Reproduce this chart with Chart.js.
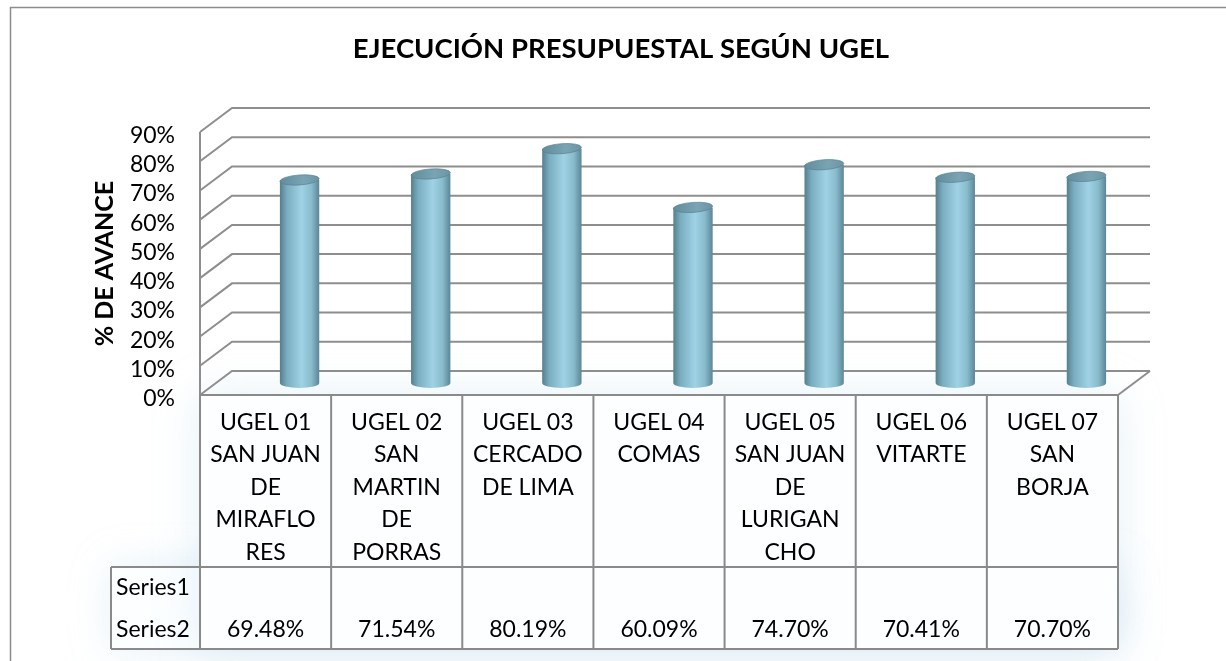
<!DOCTYPE html>
<html>
<head>
<meta charset="utf-8">
<script src="https://cdn.jsdelivr.net/npm/chart.js@4.4.0/dist/chart.umd.min.js"></script>
<style>
html,body{margin:0;padding:0;background:#fff;}
#wrap{width:1226px;height:661px;position:relative;}
</style>
</head>
<body>
<div id="wrap"><canvas id="c" width="1226" height="661"></canvas></div>
<script>
const chartTitle = "EJECUCIÓN PRESUPUESTAL SEGÚN UGEL";
const yAxisTitle = "% DE AVANCE";
const categories = [
  ["UGEL 01","SAN JUAN","DE","MIRAFLO","RES"],
  ["UGEL 02","SAN","MARTIN","DE","PORRAS"],
  ["UGEL 03","CERCADO","DE LIMA"],
  ["UGEL 04","COMAS"],
  ["UGEL 05","SAN JUAN","DE","LURIGAN","CHO"],
  ["UGEL 06","VITARTE"],
  ["UGEL 07","SAN","BORJA"]
];
const series1 = [null, null, null, null, null, null, null];
const series2 = [69.48, 71.54, 80.19, 60.09, 74.70, 70.41, 70.70];
const seriesNames = ["Series1", "Series2"];
const yMin = 0, yMax = 90, yStep = 10;

const FONT = "Lato, 'Open Sans', sans-serif";
const GRID = "#8e8e8e";
const FDX = -32, FDY = 12;   // front offset from chart plane
const BDX = 0,  BDY = -12;   // back offset

const deco = {
  id: 'deco',
  beforeDraw(chart) {
    const ctx = chart.ctx, ca = chart.chartArea;
    const ys = chart.scales.y, xs = chart.scales.x;
    ctx.save();
    ctx.fillStyle = '#fff';
    ctx.fillRect(0, 0, chart.width, chart.height);
    // outer border
    ctx.strokeStyle = '#8c8c8c'; ctx.lineWidth = 1.5;
    ctx.beginPath(); ctx.moveTo(10.5, 700); ctx.lineTo(10.5, 7.5); ctx.lineTo(1300, 7.5); ctx.stroke();

    // glow behind table/floor
    const cw = (ca.right - ca.left) / categories.length;
    const tL = ca.left + FDX, tR = ca.right + FDX;
    const t0 = ys.getPixelForValue(0) + FDY;
    ctx.save();
    ctx.shadowColor = 'rgba(175,212,232,0.35)';
    ctx.shadowBlur = 40;
    ctx.fillStyle = '#fcfeff';
    ctx.fillRect(tL - 88, t0 + 172, tR - tL + 88, 82);
    ctx.fillRect(tL, t0, tR - tL, 254);
    ctx.restore();

    // title
    ctx.fillStyle = '#000';
    ctx.font = "bold 27.5px " + FONT;
    ctx.textAlign = 'center'; ctx.textBaseline = 'alphabetic';
    ctx.fillText(chartTitle, 621, 58);

    // y axis title
    ctx.save();
    ctx.translate(113, 263.5); ctx.rotate(-Math.PI / 2);
    ctx.font = "bold 25px " + FONT;
    ctx.fillText(yAxisTitle, 0, 0);
    ctx.restore();

    // walls gridlines
    ctx.strokeStyle = GRID; ctx.lineWidth = 2; ctx.lineCap = 'butt';
    ys.ticks.forEach(t => {
      const y = ys.getPixelForValue(t.value);
      ctx.beginPath();
      ctx.moveTo(ca.left + FDX, y + FDY);
      ctx.lineTo(ca.left + BDX, y + BDY);
      ctx.lineTo(ca.right + BDX, y + BDY);
      ctx.stroke();
    });
    // front-left vertical axis
    ctx.beginPath();
    ctx.moveTo(ca.left + FDX, ys.getPixelForValue(yMin) + FDY);
    ctx.lineTo(ca.left + FDX, ys.getPixelForValue(yMax) + FDY);
    ctx.stroke();
    // floor right edge
    ctx.beginPath();
    ctx.moveTo(ca.right + FDX, ys.getPixelForValue(0) + FDY);
    ctx.lineTo(ca.right + BDX, ys.getPixelForValue(0) + BDY);
    ctx.stroke();

    // tick labels
    ctx.font = "23px " + FONT; ctx.textAlign = 'right';
    ys.ticks.forEach(t => {
      const y = ys.getPixelForValue(t.value) + FDY;
      ctx.fillText(t.value + '%', 175, y + 11);
    });

    // data table
    const rowTop = t0, hdrBot = t0 + 172, tBot = hdrBot + 82, lblL = tL - 89;
    ctx.strokeStyle = '#8a8a8a'; ctx.lineWidth = 2;
    ctx.beginPath();
    ctx.moveTo(tL, rowTop); ctx.lineTo(tR, rowTop);
    ctx.moveTo(lblL, hdrBot); ctx.lineTo(tR, hdrBot);
    ctx.moveTo(lblL, tBot); ctx.lineTo(tR, tBot);
    ctx.moveTo(lblL, hdrBot); ctx.lineTo(lblL, tBot);
    for (let i = 0; i <= categories.length; i++) {
      const x = (i < categories.length ? xs.getPixelForValue(i) - cw / 2 : xs.getPixelForValue(i - 1) + cw / 2) + FDX;
      ctx.moveTo(x, rowTop); ctx.lineTo(x, tBot);
    }
    ctx.stroke();

    ctx.fillStyle = '#000'; ctx.font = "23px " + FONT;
    ctx.textAlign = 'center';
    categories.forEach((lines, i) => {
      const cx = xs.getPixelForValue(i) + FDX;
      lines.forEach((ln, k) => ctx.fillText(ln, cx, rowTop + 35 + k * 32.4));
      const v1 = series1[i], v2 = series2[i];
      if (v1 != null) ctx.fillText(v1.toFixed(2) + '%', cx, hdrBot + 28);
      if (v2 != null) ctx.fillText(v2.toFixed(2) + '%', cx, hdrBot + 70);
    });
    ctx.textAlign = 'left';
    ctx.fillText(seriesNames[0], lblL + 5, hdrBot + 28);
    ctx.fillText(seriesNames[1], lblL + 5, hdrBot + 70);
    ctx.restore();
  },
  afterDatasetsDraw(chart) {
    const ctx = chart.ctx;
    chart.data.datasets.forEach((ds, di) => {
      const meta = chart.getDatasetMeta(di);
      meta.data.forEach((el, i) => {
        if (ds.data[i] == null) return;
        const p = el.getProps(['x', 'y', 'base', 'width'], true);
        const rx = p.width / 2, ry = 5, cx = p.x + 2, top = p.y, bot = p.base;
        ctx.save();
        const g = ctx.createLinearGradient(cx - rx, 0, cx + rx, 0);
        g.addColorStop(0, '#557f8e');
        g.addColorStop(0.18, '#7aadbf');
        g.addColorStop(0.55, '#9fd2e4');
        g.addColorStop(0.8, '#88bccd');
        g.addColorStop(1, '#5b8696');
        ctx.fillStyle = g;
        ctx.beginPath();
        ctx.moveTo(cx - rx, top);
        ctx.lineTo(cx - rx, bot);
        ctx.ellipse(cx, bot, rx, ry, 0, Math.PI, 0, true);
        ctx.lineTo(cx + rx, top);
        ctx.closePath();
        ctx.fill();
        // top
        const gt = ctx.createLinearGradient(cx - rx, 0, cx + rx, 0);
        gt.addColorStop(0, '#628d9d');
        gt.addColorStop(0.6, '#7aa3b3');
        gt.addColorStop(1, '#6b95a5');
        ctx.fillStyle = gt;
        ctx.beginPath();
        ctx.ellipse(cx, top, rx, ry, -0.07, 0, Math.PI * 2);
        ctx.fill();
        ctx.strokeStyle = 'rgba(90,130,145,0.7)'; ctx.lineWidth = 1;
        ctx.stroke();
        ctx.restore();
      });
    });
  }
};

new Chart(document.getElementById('c'), {
  type: 'bar',
  data: {
    labels: categories,
    datasets: [
      { label: seriesNames[0], data: series1, backgroundColor: 'rgba(0,0,0,0)', grouped: false, barPercentage: 0.3, categoryPercentage: 1 },
      { label: seriesNames[1], data: series2, backgroundColor: 'rgba(0,0,0,0)', grouped: false, barPercentage: 0.3, categoryPercentage: 1 }
    ]
  },
  options: {
    responsive: false,
    animation: false,
    devicePixelRatio: 1,
    layout: { padding: { left: 232, right: 76, top: 120, bottom: 278 } },
    plugins: { legend: { display: false }, title: { display: false }, tooltip: { enabled: false } },
    scales: {
      x: { display: false, offset: true },
      y: { display: false, min: yMin, max: yMax, ticks: { stepSize: yStep } }
    }
  },
  plugins: [deco]
});
</script>
</body>
</html>
